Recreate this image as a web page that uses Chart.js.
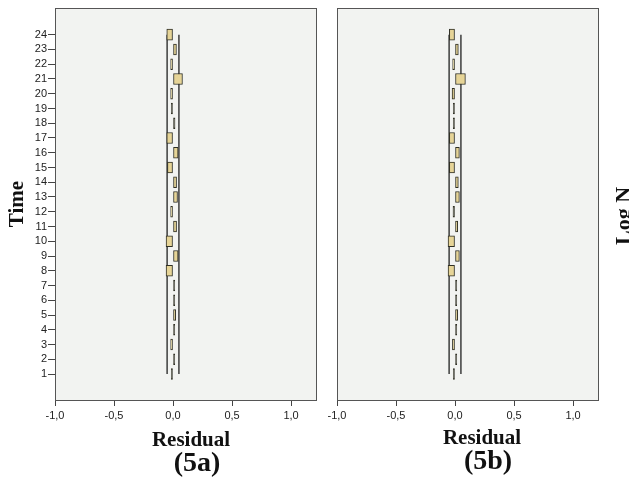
<!DOCTYPE html>
<html>
<head>
<meta charset="utf-8">
<script src="https://cdn.jsdelivr.net/npm/chart.js@4.4.1/dist/chart.umd.min.js"></script>
<style>
  body { margin: 0; background: #fff; }
  #wrap { position: relative; width: 629px; height: 482px; overflow: hidden; }
  canvas { position: absolute; top: 0; }
  #chartA { left: 0; }
  #chartB { left: 320px; }
  .lbl {
    position: absolute; width: 200px; text-align: center; white-space: nowrap;
    font-family: "Liberation Serif", "Times New Roman", serif; font-weight: bold; color: #111;
  }
  .axis { font-size: 21px; line-height: 21px; }
  .tag { font-size: 28px; line-height: 28px; }
  #logn { width: 100px; font-size: 22px; line-height: 22px; left: 573px; top: 205px; transform: rotate(-90deg); }
</style>
</head>
<body>
<div id="wrap">
  <canvas id="chartA" width="320" height="482"></canvas>
  <canvas id="chartB" width="309" height="482"></canvas>
  <div class="lbl axis" style="left:91px; top:429px;">Residual</div>
  <div class="lbl tag" style="left:97px; top:448px;">(5a)</div>
  <div class="lbl axis" style="left:382px; top:427px;">Residual</div>
  <div class="lbl tag" style="left:388px; top:446px;">(5b)</div>
  <div class="lbl" id="logn">Log N</div>
</div>
<script>
// time points on the vertical axis
const timePoints = [1, 2, 3, 4, 5, 6, 7, 8, 9, 10, 11, 12, 13, 14, 15, 16, 17, 18, 19, 20, 21, 22, 23, 24];

// residuals, in time order 1..24
const residuals5a = [-0.015, 0.015, -0.02, 0.015, 0.023, 0.015, 0.015, -0.059, 0.043, -0.059, 0.03, -0.02,
                     0.038, 0.03, -0.047, 0.043, -0.053, 0.017, -0.015, -0.02, 0.08, -0.02, 0.029, -0.053];
const residuals5b = [-0.015, 0.015, -0.022, 0.015, 0.023, 0.015, 0.015, -0.059, 0.037, -0.059, 0.023, -0.017,
                     0.037, 0.028, -0.048, 0.037, -0.048, -0.015, -0.015, -0.025, 0.088, -0.02, 0.028, -0.048];

const xTickValues = [-1, -0.5, 0, 0.5, 1];
const limitValues = [-0.05, 0.05];

const plotFrame = {
  id: 'plotFrame',
  beforeDraw(chart) {
    const a = chart.chartArea, ctx = chart.ctx;
    ctx.save();
    ctx.fillStyle = '#f2f3f1';
    ctx.fillRect(a.left, a.top, a.right - a.left, a.bottom - a.top);
    ctx.restore();
  },
  afterDraw(chart) {
    const a = chart.chartArea, ctx = chart.ctx;
    ctx.save();
    ctx.strokeStyle = '#555';
    ctx.lineWidth = 1;
    ctx.strokeRect(a.left + 0.5, a.top + 0.5, a.right - a.left - 1, a.bottom - a.top);
    ctx.restore();
  }
};

function makeChart(id, residuals, showY, padding) {
  const ctx = document.getElementById(id).getContext('2d');
  const datasets = [{
    type: 'bar',
    data: timePoints.map((t, i) => ({ x: residuals[i], y: t })),
    // very thin boxes read as dark dashes in the original
    backgroundColor: c => Math.abs(residuals[c.dataIndex]) < 0.018 ? '#4a4a3c' : '#e6d497',
    borderColor: '#2e2e24',
    borderWidth: 1,
    borderSkipped: false,
    barThickness: 11
  }];
  limitValues.forEach(v => {
    datasets.push({
      type: 'line',
      data: [{ x: v, y: timePoints[0] }, { x: v, y: timePoints[timePoints.length - 1] }],
      borderColor: '#3c3c3c',
      borderWidth: 1.5,
      pointRadius: 0,
      fill: false
    });
  });

  return new Chart(ctx, {
    type: 'bar',
    data: { datasets: datasets },
    options: {
      responsive: false,
      animation: false,
      indexAxis: 'y',
      layout: { padding: padding },
      plugins: { legend: { display: false }, tooltip: { enabled: false } },
      scales: {
        x: {
          type: 'linear',
          min: -1,
          max: 1.22,
          offset: false,
          afterBuildTicks: s => { s.ticks = xTickValues.map(v => ({ value: v })); },
          afterFit: s => { s.height = 30; },
          border: { display: false },
          grid: { drawOnChartArea: false, drawTicks: true, tickLength: 6, color: '#444', offset: false },
          ticks: {
            padding: 3, color: '#222', maxRotation: 0, autoSkip: false,
            font: { family: 'Liberation Sans', size: 11 },
            callback: v => v.toFixed(1).replace('.', ',')
          }
        },
        y: {
          type: 'linear',
          display: showY,
          min: -0.76,
          max: 25.81,
          offset: false,
          afterBuildTicks: s => { s.ticks = timePoints.map(v => ({ value: v })); },
          afterFit: s => { if (showY) s.width = 55; },
          border: { display: false },
          grid: { drawOnChartArea: false, drawTicks: true, tickLength: 7, color: '#444', offset: false },
          ticks: {
            padding: 1, color: '#222', autoSkip: false,
            font: { family: 'Liberation Sans', size: 11 },
            callback: v => String(v)
          },
          title: {
            display: true,
            text: 'Time',
            color: '#111',
            padding: { top: 5, bottom: 0 },
            font: { family: "'Liberation Serif', serif", weight: 'bold', size: 21 }
          }
        }
      }
    },
    plugins: [plotFrame]
  });
}

makeChart('chartA', residuals5a, true, { left: 0, right: 3, top: 8, bottom: 52 });
makeChart('chartB', residuals5b, false, { left: 17, right: 30, top: 8, bottom: 52 });
</script>
</body>
</html>
